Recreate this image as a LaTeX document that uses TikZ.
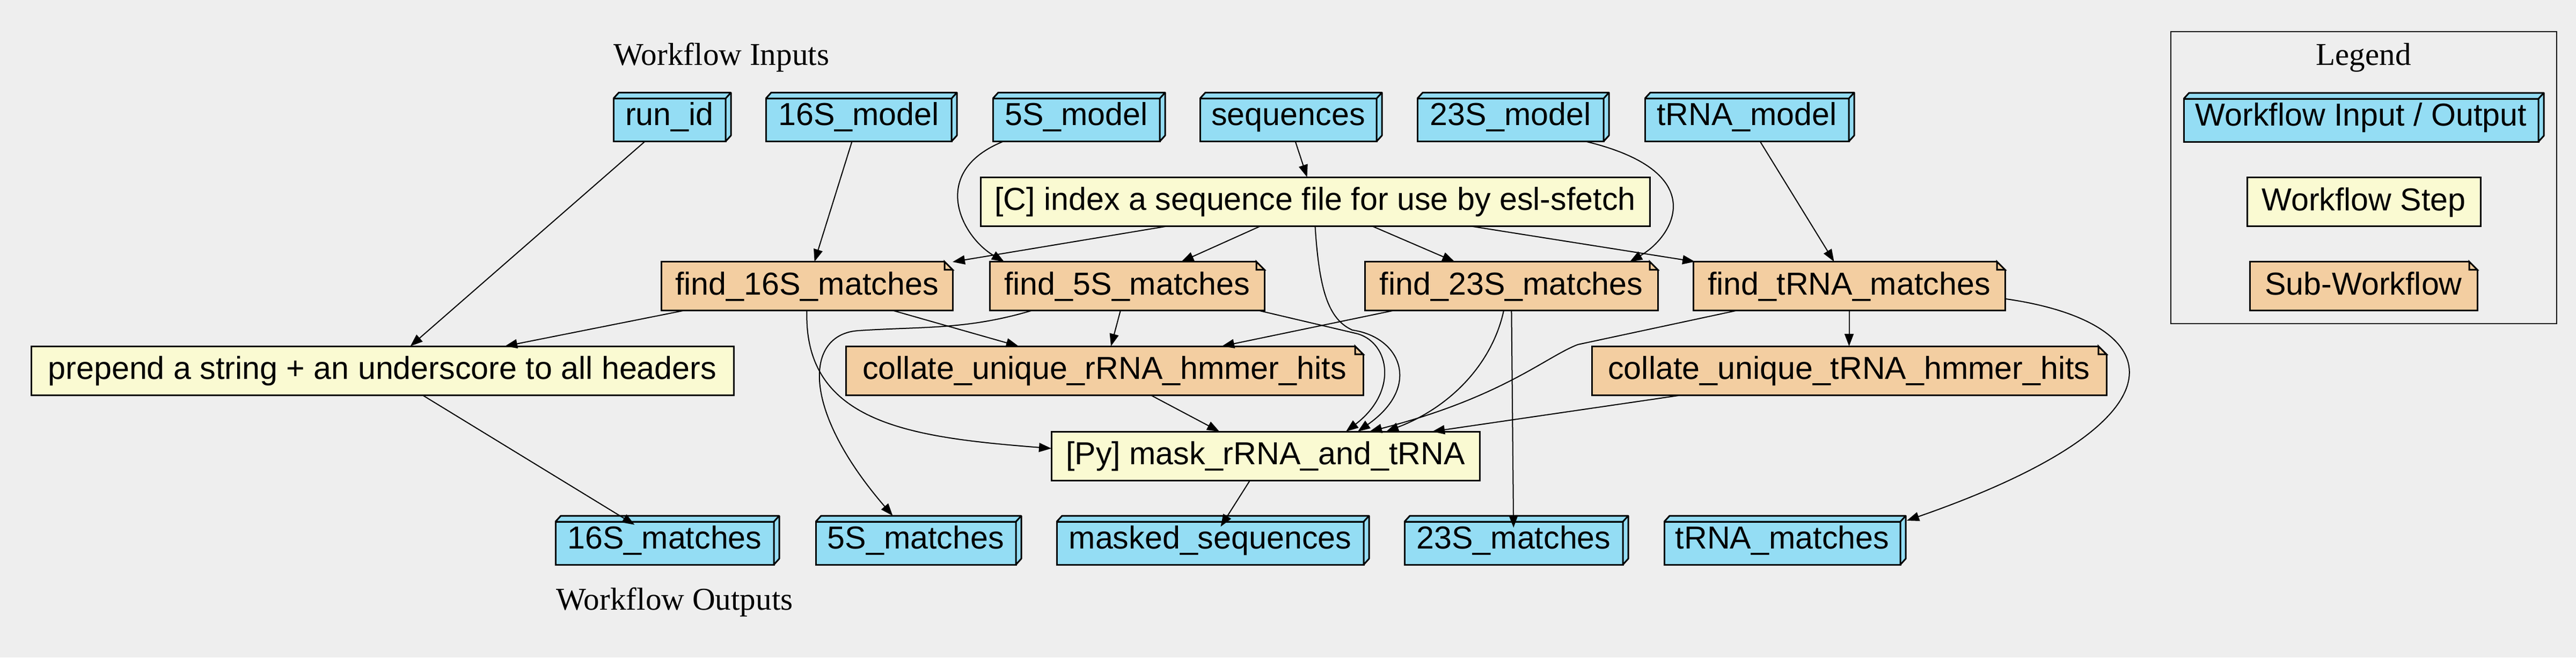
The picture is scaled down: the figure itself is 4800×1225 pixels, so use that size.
\documentclass[tikz,border=0pt]{standalone}
\usepackage{fontspec}
\setmainfont{Liberation Sans}
\newfontfamily\titlefont{Liberation Serif}
\usepackage{tikz}
\usetikzlibrary{arrows.meta,calc}
\definecolor{iocol}{HTML}{94DDF4}
\definecolor{stepcol}{HTML}{FAFAD2}
\definecolor{subcol}{HTML}{F3CEA1}
\definecolor{bgc}{HTML}{EEEEEE}
\tikzstyle{boxbase} = [rectangle, draw=black, line width=0.75pt, outer sep=0pt, inner sep=0pt, text height=10.5pt, font=\fontsize{14.8}{17.8}\selectfont]
\tikzstyle{iobox} = [boxbase, fill=iocol, minimum height=20pt, text depth=5.3pt]
\tikzstyle{stepbox} = [boxbase, fill=stepcol, minimum height=22.75pt, text depth=2.5pt]
\tikzstyle{subwf} = [boxbase, fill=subcol, minimum height=22.75pt, text depth=2.5pt]
\tikzstyle{heading} = [inner sep=0pt, font=\titlefont\fontsize{14.8}{17.8}\selectfont]
\tikzstyle{legframe} = [rectangle, draw=black, line width=0.6pt, inner sep=0pt, minimum width=179.75pt, minimum height=136pt]
\tikzstyle{ioface} = [fill=iocol, draw=black, line width=0.75pt, line join=bevel]
\tikzstyle{notefold} = [draw=black, line width=0.75pt]
\tikzstyle{arrow} = [line width=0.5pt,->,>={Triangle[length=5.75pt,width=4.25pt]}]
\tikzstyle{toout} = [arrow, shorten >=-2.75pt]

\begin{document}
\begin{tikzpicture}[x=0.25pt,y=-0.25pt]
\path[use as bounding box, fill=bgc] (0,0) rectangle (4800,1225);

% titles
\node (titlein) [heading, anchor=base west] at (1143,121) {Workflow Inputs};
\node (titleout) [heading, anchor=base west] at (1036,1136) {Workflow Outputs};

% legend
\node (legbox) [legframe] at (4404.5,331) {};
\node (titleleg) [heading, anchor=base] at (4404,121) {Legend};
\node (legio) [iobox, minimum width=165.25pt] at (4399.5,224) {Workflow Input / Output};
\node (legstep) [stepbox, minimum width=108.75pt] at (4404.5,376) {Workflow Step};
\node (legsub) [subwf, minimum width=106pt] at (4404,533) {Sub-Workflow};

% inputs
\node (runid) [iobox, minimum width=52.25pt] at (1247.5,223.5) {run\_id};
\node (model16) [iobox, minimum width=86.5pt] at (1600,223.5) {16S\_model};
\node (model5) [iobox, minimum width=77.75pt] at (2005.5,223.5) {5S\_model};
\node (seqs) [iobox, minimum width=82.25pt] at (2400.5,223.5) {sequences};
\node (model23) [iobox, minimum width=86.75pt] at (2814.5,223.5) {23S\_model};
\node (modeltrna) [iobox, minimum width=95pt] at (3255,223.5) {tRNA\_model};

% steps
\node (idx) [stepbox, minimum width=311.75pt] at (2450.5,375.5) {[C] index a sequence file for use by esl-sfetch};
\node (find16) [subwf, minimum width=135.75pt] at (1503.5,533) {find\_16S\_matches};
\node (find5) [subwf, minimum width=128pt] at (2100,533) {find\_5S\_matches};
\node (find23) [subwf, minimum width=136.5pt] at (2816,533) {find\_23S\_matches};
\node (findtrna) [subwf, minimum width=145.25pt] at (3445.5,533) {find\_tRNA\_matches};
\node (prepend) [stepbox, minimum width=327.25pt] at (712.5,690.5) {prepend a string + an underscore to all headers};
\node (collrrna) [subwf, minimum width=241pt] at (2058,690.5) {collate\_unique\_rRNA\_hmmer\_hits};
\node (colltrna) [subwf, minimum width=239.75pt] at (3445.5,690.5) {collate\_unique\_tRNA\_hmmer\_hits};
\node (mask) [stepbox, minimum width=199.5pt] at (2358,849.5) {[Py] mask\_rRNA\_and\_tRNA};

% outputs
\node (out16) [iobox, minimum width=101.75pt] at (1238.5,1012) {16S\_matches};
\node (out5) [iobox, minimum width=93.25pt] at (1706.5,1012) {5S\_matches};
\node (outmasked) [iobox, minimum width=143pt] at (2255,1012) {masked\_sequences};
\node (out23) [iobox, minimum width=101.75pt] at (2820.5,1012) {23S\_matches};
\node (outtrna) [iobox, minimum width=110pt] at (3321,1012) {tRNA\_matches};

% 3d faces of the input / output boxes
\foreach \n in {runid,model16,model5,seqs,model23,modeltrna,out16,out5,outmasked,out23,outtrna,legio} {
  \filldraw[ioface] (\n.north west) -- ([xshift=2.5pt,yshift=2.75pt]\n.north west) -- ([xshift=2.5pt,yshift=2.75pt]\n.north east) -- ([xshift=2.5pt,yshift=2.75pt]\n.south east) -- (\n.south east) -- (\n.north east) -- cycle;
  \draw[ioface] (\n.north east) -- ([xshift=2.5pt,yshift=2.75pt]\n.north east);
}

% folded corners of the sub-workflows
\foreach \n in {find16,find5,find23,findtrna,collrrna,colltrna,legsub} {
  \fill[bgc] ([xshift=-3.75pt]\n.north east) -- ([xshift=-3.75pt,yshift=1pt]\n.north east) -- ([xshift=1pt,yshift=1pt]\n.north east) -- ([xshift=1pt,yshift=-3.75pt]\n.north east) -- ([yshift=-3.75pt]\n.north east) -- cycle;
  \draw[notefold] ([xshift=-3.75pt]\n.north east) -- ([yshift=-3.75pt]\n.north east) -- ([xshift=-3.75pt,yshift=-3.75pt]\n.north east) -- cycle;
}

% edges
\draw [arrow] (runid) -- (prepend);
\draw [arrow] (model16) -- (find16);
\draw [arrow] ($(model5.south)+(-136,0)$) .. controls (1730,320) and (1790,440) .. ($(find5.north)+(-229,0)$);
\draw [arrow] (seqs) -- (idx);
\draw [arrow] ($(model23.south)+(140,0)$) .. controls (3190,320) and (3120,440) .. ($(find23.north)+(221,0)$);
\draw [arrow] (modeltrna) -- (findtrna);
\draw [arrow] (idx) -- (find16);
\draw [arrow] (idx) -- (find5);
\draw [arrow] (idx) -- (find23);
\draw [arrow] (idx) -- (findtrna);
\draw [arrow] (idx.south) .. controls (2458,540) and (2475,595) .. (2520,615) .. controls (2610,628) and (2650,720) .. ($(mask.north)+(172,0)$);
\draw [arrow] (find16) -- (prepend);
\draw [arrow] (find16) -- (collrrna);
\draw [arrow] (find16.south) .. controls (1497,790) and (1700,815) .. ($(mask.west)+(0,-14)$);
\draw [arrow] (find5) -- (collrrna);
\draw [arrow] ($(find5.south)+(-177,0)$) .. controls (1800,615) and (1720,608) .. (1600,616) .. controls (1500,622) and (1490,760) .. ($(out5.north)+(-43,-11)$);
\draw [arrow] ($(find5.south east)+(-11,0)$) -- (2530,622) .. controls (2590,640) and (2605,730) .. ($(mask.north)+(150,0)$);
\draw [arrow] (find23) -- (collrrna);
\draw [arrow] ($(find23.south)+(-14,0)$) .. controls (2780,680) and (2700,760) .. ($(mask.north)+(225,0)$);
\draw [toout] (find23) -- (out23);
\draw [arrow] (findtrna) -- (colltrna);
\draw [arrow] ($(findtrna.south)+(-209,0)$) -- (2940,642) .. controls (2880,665) and (2800,740) .. ($(mask.north)+(194,0)$);
\draw [arrow] ($(findtrna.east)+(2,24)$) .. controls (4040,600) and (4100,780) .. ($(outtrna.north east)+(12,-2)$);
\draw [arrow] (collrrna) -- (mask);
\draw [arrow] (colltrna) -- (mask);
\draw [toout] (prepend) -- (out16);
\draw [toout] (mask) -- (outmasked);
\end{tikzpicture}
\end{document}
